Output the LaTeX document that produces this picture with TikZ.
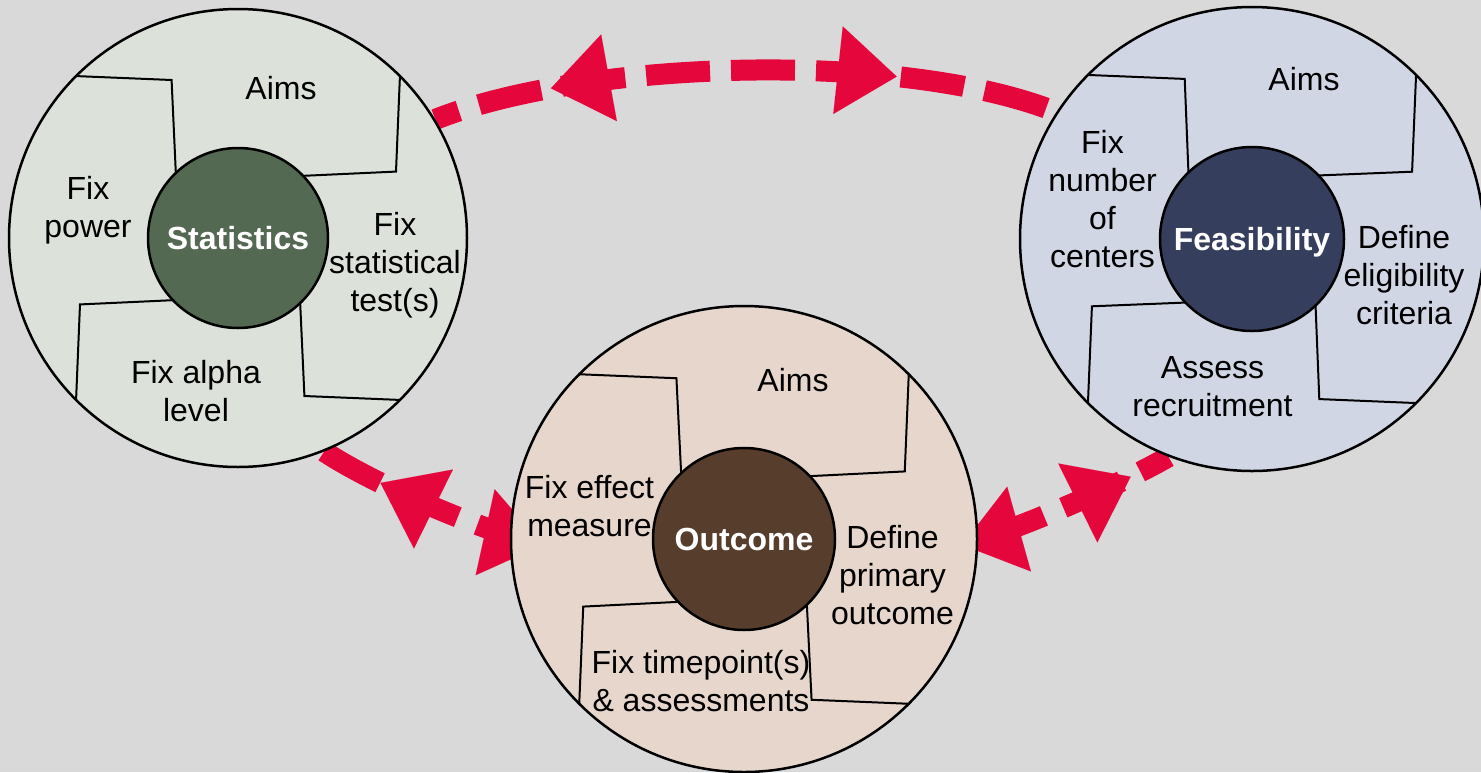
\documentclass[tikz,border=0pt]{standalone}
\usepackage{fontspec}
\setmainfont{Liberation Sans}
\usetikzlibrary{arrows.meta,decorations.markings,calc}
\pgfdeclarelayer{back}
\pgfsetlayers{back,main}
\definecolor{bgc}{RGB}{217,217,217}
\definecolor{redc}{RGB}{229,6,60}
\definecolor{statout}{RGB}{220,226,218}
\definecolor{statin}{RGB}{84,105,82}
\definecolor{feasout}{RGB}{208,214,228}
\definecolor{feasin}{RGB}{53,62,92}
\definecolor{outout}{RGB}{230,214,203}
\definecolor{outin}{RGB}{87,61,43}
\tikzset{
  outerc/.style={circle, draw=black, line width=2.5pt, inner sep=0pt},
  innerc/.style={circle, draw=black, line width=2.5pt, inner sep=0pt, text=white,
    font=\fontsize{32}{38}\selectfont\bfseries, text height=23pt, text depth=0pt},
  wheelline/.style={draw=black, line width=2pt, line join=miter},
  lbl/.style={font=\fontsize{32}{38}\selectfont, align=center, inner sep=0pt, text=black},
  link/.style={draw=redc, color=redc, line width=21pt, dash pattern=on 64pt off 21pt},
  bighead/.tip={Triangle[length=59pt,width=88pt,line width=0.01pt]}
}
% #1 name, #2 x, #3 y, #4 R, #5 r, #6 outer fill, #7 inner fill, #8 label
\newcommand\drawwheel[8]{%
  \node[outerc, minimum size={2*#4 pt}, fill=#6] (#1O) at (#2,#3) {};
  \foreach \a in {0,90,180,270}{%
    \draw[wheelline] ($(#1O.center)+({225+\a}:#4)$) -- ($(#1O.center)+({247.2+\a}:{0.7485*#4})$) -- ($(#1O.center)+({226.3+\a}:#5)$);
  }
  \node[innerc, minimum size={2*#5 pt}, fill=#7] (#1I) at (#2,#3) {#8};
}
\begin{document}
\begin{tikzpicture}[x=1pt,y=-1pt]
\begin{pgfonlayer}{back}
  \fill[bgc] (0,0) rectangle (1481,772);
\end{pgfonlayer}
\useasboundingbox (0,0) rectangle (1481,772);

\drawwheel{stat}{238}{238}{229}{90}{statout}{statin}{Statistics}
\drawwheel{feas}{1252}{239}{232}{92}{feasout}{feasin}{Feasibility}
\drawwheel{out}{744}{539}{233}{91}{outout}{outin}{Outcome}

% Statistics labels
\node[lbl] (sAims) at (281,91.4) {\strut Aims};
\node[lbl] (sPower) at (88,211) {\strut Fix\\\strut power};
\node[lbl] (sTest) at (395,266) {\strut Fix\\\strut statistical\\\strut test(s)};
\node[lbl] (sAlpha) at (196,394.5) {\strut Fix alpha\\\strut level};
% Feasibility labels
\node[lbl] (fAims) at (1304,82.4) {\strut Aims};
\node[lbl] (fCenters) at (1102.5,202.4) {\strut Fix\\\strut number\\\strut of\\\strut centers};
\node[lbl] (fElig) at (1404,278.4) {\strut Define\\\strut eligibility\\\strut criteria};
\node[lbl] (fRecr) at (1212.5,389.4) {\strut Assess\\\strut recruitment};
% Outcome labels
\node[lbl] (oAims) at (793,383.4) {\strut Aims};
\node[lbl] (oEffect) at (589.5,509.4) {\strut Fix effect\\\strut measure};
\node[lbl] (oPrimary) at (892.5,578.4) {\strut Define\\\strut primary\\\strut outcome};
\node[lbl] (oTime) at (701,684.4) {\strut Fix timepoint(s)\\\strut \& assessments};

\begin{pgfonlayer}{back}
  \draw[link, dash phase=39pt, postaction={decorate},
    decoration={markings,
      mark=at position 0.19 with {\arrowreversed{bighead}},
      mark=at position 0.74 with {\arrow{bighead}}}]
    (statO.31) .. controls (585,60) and (900,50) .. (feasO.147);
  \draw[link, dash phase=0pt, postaction={decorate},
    decoration={markings,
      mark=at position 0.27 with {\arrowreversed{bighead}},
      mark=at position 0.999 with {\arrow{bighead}}}]
    (statO.-68) .. controls (373,484) and (484,532) .. ($(outO.center)+(-201,6)$);
  \draw[link, dash phase=62pt, postaction={decorate},
    decoration={markings,
      mark=at position 0.001 with {\arrowreversed{bighead}},
      mark=at position 0.81 with {\arrow{bighead}}}]
    ($(outO.center)+(218,6)$) .. controls (1030,526) and (1130,479) .. (feasO.-111);
\end{pgfonlayer}
\end{tikzpicture}
\end{document}
